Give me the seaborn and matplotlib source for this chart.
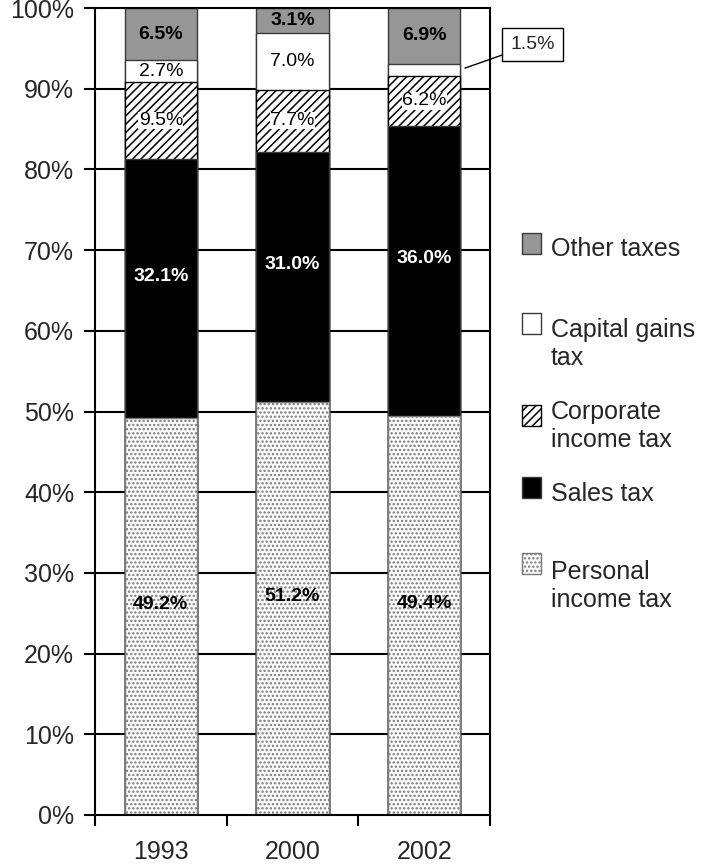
import numpy as np
import pandas as pd
import matplotlib
matplotlib.use("Agg")
import matplotlib.pyplot as plt
from matplotlib.patches import Rectangle
import seaborn as sns

# Tax revenue composition (% of total) by year
years = ["1993", "2000", "2002"]
personal_income = [49.2, 51.2, 49.4]
sales = [32.1, 31.0, 36.0]
corporate_income = [9.5, 7.7, 6.2]
capital_gains = [2.7, 7.0, 1.5]
other = [6.5, 3.1, 6.9]

categories = ["Personal\nincome tax", "Sales tax", "Corporate\nincome tax",
              "Capital gains\ntax", "Other taxes"]
series = [personal_income, sales, corporate_income, capital_gains, other]
faces = ["#fbfbfb", "#000000", "#ffffff", "#ffffff", "#969696"]
edges = ["#7a7a7a", "#3a3a3a", "#000000", "#3a3a3a", "#3a3a3a"]
hatches = ["....", None, "////", None, None]

sns.set_theme(style="white")
plt.rcParams["font.family"] = ["Liberation Sans", "DejaVu Sans"]
plt.rcParams["hatch.linewidth"] = 1.1

fig = plt.figure(figsize=(7.06, 8.67), dpi=100)
ax = fig.add_axes([95 / 706, 1 - 815 / 867, 395 / 706, 807 / 867])

# cumulative tops, drawn from the top layer down so each layer covers the next
vals = np.array(series)
tops = np.cumsum(vals, axis=0)
bottoms = tops - vals
for i in range(len(series) - 1, -1, -1):
    df = pd.DataFrame({"year": years, "top": tops[i]})
    sns.barplot(data=df, x="year", y="top", ax=ax, width=0.55,
                color=faces[i], saturation=1, edgecolor=edges[i],
                linewidth=1.0, hatch=hatches[i], zorder=2)

# horizontal gridlines behind the bars
for yv in range(10, 100, 10):
    ax.axhline(yv, color="black", lw=1.5, zorder=1)

# segment labels
label_style = {
    0: dict(color="black", fontweight="bold"),
    1: dict(color="white", fontweight="bold"),
    2: dict(color="black", fontweight="normal",
            bbox=dict(facecolor="white", edgecolor="none", pad=0.3)),
    3: dict(color="black", fontweight="normal"),
    4: dict(color="black", fontweight="bold"),
}
label_lift = {0: 1.5, 1: 1.5, 2: 0.0, 3: 0.0, 4: 0.0}
for i in range(len(series)):
    for j, y in enumerate(years):
        v = vals[i, j]
        if v < 2:
            continue
        ax.text(j, bottoms[i, j] + v / 2 + label_lift[i], f"{v:.1f}%",
                ha="center", va="center", fontsize=14, zorder=5,
                **label_style[i])

# small capital-gains segment in 2002 labelled outside with a leader line
j = 2
v = capital_gains[j]
ymid = bottoms[3, j] + v / 2
ax.annotate(f"{v:.1f}%", xy=(j + 0.31, ymid + 0.2), xytext=(2.823, 95.5),
            textcoords="data", fontsize=14, ha="center", va="center",
            bbox=dict(boxstyle="square,pad=0.42", facecolor="white",
                      edgecolor="black", lw=1.0),
            arrowprops=dict(arrowstyle="-", color="black", lw=1.0,
                            shrinkA=0, shrinkB=0),
            annotation_clip=False, zorder=6)

ax.set_xlim(-0.5, 2.5)
ax.set_ylim(0, 100)
ax.set_yticks(range(0, 101, 10))
ax.set_yticklabels([f"{t}%" for t in range(0, 101, 10)], fontsize=18)
ax.set_xticks(range(len(years)))
ax.set_xticklabels(years, fontsize=18)
ax.set_xticks([-0.5, 0.5, 1.5, 2.5], minor=True)
ax.tick_params(axis="x", which="major", length=0, pad=18)
ax.tick_params(axis="x", which="minor", length=8, width=1.5,
               direction="out", color="black", bottom=True)
ax.tick_params(axis="y", length=8, width=1.5, direction="out",
               color="black", left=True, pad=7)
ax.set_xlabel("")
ax.set_ylabel("")
for s in ax.spines.values():
    s.set_color("black")
    s.set_linewidth(1.5)
    s.set_visible(True)

# legend, drawn in figure pixel coordinates
W, H = 706, 867
legend_rows = [  # (series index, square top, first-line baseline)
    (4, 233, 256),
    (3, 313, 337),
    (2, 405, 419),
    (1, 477, 501),
    (0, 553, 579),
]
line_gap = 28
for i, sq_top, base in legend_rows:
    fig.add_artist(Rectangle((522 / W, 1 - (sq_top + 21) / H), 19 / W, 21 / H,
                             transform=fig.transFigure, facecolor=faces[i],
                             edgecolor=edges[i] if hatches[i] else "#3a3a3a",
                             lw=1.0, hatch=hatches[i]))
    for k, line in enumerate(categories[i].split("\n")):
        fig.text(551 / W, 1 - (base + k * line_gap) / H, line, fontsize=18,
                 va="baseline", ha="left")

fig.savefig("out.png", dpi=100)
